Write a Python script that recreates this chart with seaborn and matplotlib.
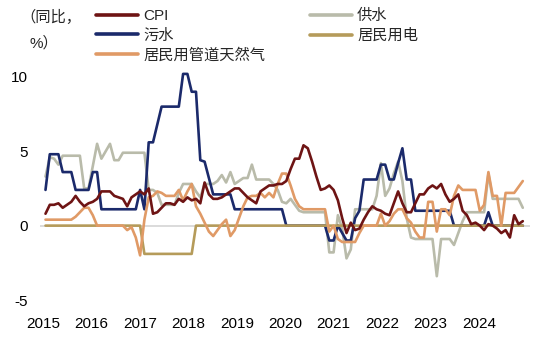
import numpy as np
import pandas as pd
import matplotlib
matplotlib.use("Agg")
import matplotlib.pyplot as plt
import seaborn as sns

# ---------------- data (monthly, Jan 2015 - Apr 2024) ----------------
cpi = [0.8,1.4,1.4,1.5,1.2,1.4,1.6,2.0,1.6,1.3,1.5,1.6,
       1.8,2.3,2.3,2.3,2.0,1.9,1.8,1.3,1.9,2.1,2.3,2.1,
       2.5,0.8,0.9,1.2,1.5,1.5,1.4,1.8,1.6,1.9,1.7,1.8,
       1.5,2.9,2.1,1.8,1.8,1.9,2.1,2.3,2.5,2.5,2.2,1.9,
       1.7,1.5,2.3,2.5,2.7,2.7,2.8,2.8,3.0,3.8,4.5,4.5,
       5.4,5.2,4.3,3.3,2.4,2.5,2.7,2.4,1.7,0.5,-0.5,0.2,
       -0.3,-0.2,0.4,0.9,1.3,1.1,1.0,0.8,0.7,1.5,2.3,1.5,
       0.9,0.9,1.5,2.1,2.1,2.5,2.7,2.5,2.8,2.1,1.6,1.8,
       2.1,1.0,0.7,0.1,0.2,0.0,-0.3,0.1,0.0,-0.2,-0.5,-0.3,
       -0.8,0.7,0.1,0.3]
water = [3.3,4.6,4.5,4.1,4.7,4.7,4.7,4.7,4.7,2.5,2.5,4.0,
         5.5,4.5,5.0,5.5,4.4,4.4,4.9,4.9,4.9,4.9,4.9,4.9,
         2.4,2.4,2.2,1.4,1.4,1.4,1.4,2.2,2.8,2.8,2.8,2.3,
         1.9,2.8,2.8,2.8,3.0,3.4,2.9,3.6,2.8,3.0,3.2,3.2,
         4.1,3.1,3.1,3.1,3.1,2.8,2.4,1.6,1.5,1.8,1.4,1.0,
         0.9,0.9,0.9,0.9,0.9,0.9,-1.8,-1.8,0.7,-0.2,-2.2,-1.6,
         1.1,1.1,1.1,1.1,1.1,2.0,4.2,2.0,2.5,3.5,4.3,3.0,
         0.5,-0.8,-0.9,-0.9,-0.9,-0.9,-0.9,-3.4,-0.9,-0.9,-0.9,-1.3,
         -0.5,0.3,0.9,0.9,0.9,0.9,0.9,3.5,1.8,1.8,1.8,1.8,
         1.8,1.8,1.8,1.2]
sewage = [2.4,4.8,4.8,4.8,3.6,3.6,3.6,2.4,2.4,2.4,2.4,3.6,
          3.6,1.1,1.1,1.1,1.1,1.1,1.1,1.1,1.1,1.1,2.4,1.1,
          5.6,5.6,6.8,8.0,8.0,8.0,8.0,8.0,10.2,10.2,9.0,9.0,
          4.4,4.3,3.2,2.1,2.1,2.1,2.1,2.1,1.1,1.1,1.1,1.1,
          1.1,1.1,1.1,1.1,1.1,1.1,1.1,1.1,0,0,0,0,
          0,0,0,0,0,0,-1.0,-1.0,0,-0.5,-1.0,-1.0,
          0.5,1.0,3.1,3.1,3.1,3.1,4.1,4.1,3.1,3.1,4.2,5.2,
          3.1,3.1,1.0,1.0,1.0,1.0,1.0,1.0,1.0,1.0,1.0,0,
          0,0,0,0,0,0,0,0.9,0,0,0,0,
          0,0,0,0]
power = [0]*23 + [-1.9]*12 + [0]*77
gas = [0.4,0.4,0.4,0.4,0.4,0.4,0.4,0.6,0.9,1.2,1.2,0.7,
       0,0,0,0,0,0,0,-0.3,-0.1,-0.8,-2.0,0.4,
       1.9,2.0,2.3,2.2,2.0,2.0,2.0,2.4,1.7,2.3,2.8,1.3,
       0.8,0.2,-0.4,-0.7,-0.3,0.1,0.4,-0.7,-0.3,0.5,1.3,1.9,
       2.0,2.0,2.2,1.9,2.2,1.9,2.8,3.5,3.5,2.7,1.8,1.3,
       1.1,1.1,1.1,1.1,1.1,1.1,-0.4,0.0,-0.9,-1.1,-1.1,-1.1,
       -1.1,-0.5,0.0,0.0,0.0,0.0,0.8,0.0,0.3,0.8,1.1,1.1,
       0.5,0.2,-0.4,-0.8,-0.8,1.6,1.6,-0.4,1.1,1.1,0.7,2.0,
       2.7,2.4,2.4,2.4,2.4,1.0,1.4,3.6,2.0,2.0,0.0,2.2,
       2.2,2.2,2.6,3.0]
year_labels = ["2015","2016","2017","2018","2019","2020","2021","2022","2023","2024"]
y_ticks = [-5, 0, 5, 10]

names = ["CPI", "污水", "居民用管道天然气", "供水", "居民用电"]
series = {"CPI": cpi, "污水": sewage, "居民用管道天然气": gas, "供水": water, "居民用电": power}
colors = {"CPI": "#6E1414", "污水": "#1B2A6B", "居民用管道天然气": "#E09A66",
          "供水": "#B9BBAA", "居民用电": "#B59B5A"}

n = len(cpi)
idx = np.arange(n)

sns.set_theme(style="white")
plt.rcParams['font.family'] = ['Liberation Sans', 'Noto Sans CJK SC', 'DejaVu Sans']
FS = 11

fig = plt.figure(figsize=(5.57, 3.42), dpi=100)
ax = fig.add_axes([40/557, 42/342, 490/557, 238/342])

ax.axhline(0, color="#d4d4d4", lw=1.2, zorder=1)

draw_order = ["供水", "污水", "居民用电", "居民用管道天然气", "CPI"]
handles = {}
for z, name in enumerate(draw_order):
    sns.lineplot(x=idx, y=series[name], ax=ax, color=colors[name], lw=1.9,
                 label=name, zorder=2 + z, legend=False)
    handles[name] = ax.get_lines()[-1]

ax.set_xlim((40 - 45.5) / 4.30, (530 - 45.5) / 4.30)
ax.set_ylim(-5, 11)
ax.set_yticks(y_ticks)
ax.set_yticklabels([str(t) for t in y_ticks], fontsize=FS)
ax.set_xticks(np.linspace((43 - 45.5) / 4.30, (479 - 45.5) / 4.30, len(year_labels)))
ax.set_xticklabels(year_labels, fontsize=FS)
ax.tick_params(axis="both", length=0, colors="black")
ax.tick_params(axis="y", pad=9)
ax.tick_params(axis="x", pad=12)
ax.set_xlabel("")
ax.set_ylabel("")
for s in ax.spines.values():
    s.set_visible(False)

leg = fig.legend([handles[k] for k in names], names, loc="upper left",
                 bbox_to_anchor=(96/557, 1 - 9/342), ncol=2, frameon=False,
                 fontsize=FS, handlelength=2.75, handletextpad=0.35,
                 columnspacing=2.9, labelspacing=0.36, borderpad=0, borderaxespad=0)
for line in leg.get_lines():
    line.set_linewidth(2.6)

fig.text(20/557, 1 - 17/342, "（同比，", fontsize=FS, va="center", ha="left")
fig.text(29/557, 1 - 43/342, "%）", fontsize=FS, va="center", ha="left")

fig.savefig("out.png", dpi=100)
